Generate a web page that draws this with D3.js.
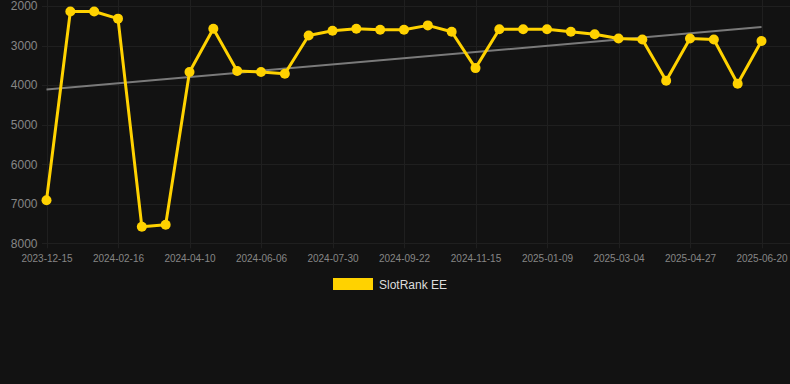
<!DOCTYPE html>
<html>
<head>
<meta charset="utf-8">
<script src="https://cdn.jsdelivr.net/npm/d3@7"></script>
<style>
    html, body { margin: 0; padding: 0; background: #121212; }
    svg { display: block; font-family: Arial, "Liberation Sans", sans-serif; }
</style>
</head>
<body>
<div id="chart"></div>
<script>
// SlotRank EE — rank over time (lower is better, axis reversed)

const seriesName = "SlotRank EE";

// one value per sample, 31 samples
const rankValues = [
    6910, 2140, 2140, 2320, 7580, 7530, 3670, 2575, 3645, 3670,
    3715, 2745, 2625, 2575, 2600, 2600, 2490, 2650, 3570, 2590,
    2590, 2590, 2650, 2715, 2820, 2845, 3890, 2820, 2845, 3965,
    2885,
];

// labels shown on every 3rd sample
const xTickLabels = [
    "2023-12-15", "2024-02-16", "2024-04-10", "2024-06-06", "2024-07-30",
    "2024-09-22", "2024-11-15", "2025-01-09", "2025-03-04", "2025-04-27",
    "2025-06-20",
];
const xTickStep = 3;

const yTicks = [2000, 3000, 4000, 5000, 6000, 7000, 8000];

const width = 790;
const height = 384;
const plot = { left: 46.5, right: 761.5, top: 6, bottom: 243.3 };

const svg = d3.select("#chart")
    .append("svg")
    .attr("width", width)
    .attr("height", height);

svg.append("rect")
    .attr("width", width).attr("height", height)
    .attr("fill", "#121212");

const idx = d3.range(rankValues.length);
const x = d3.scalePoint().domain(idx).range([plot.left, plot.right]);
const y = d3.scaleLinear().domain([2000, 8000]).range([plot.top, plot.bottom]);

// Grid
const grid = svg.append("g").attr("stroke", "#1f1f1f").attr("stroke-width", 1);
grid.selectAll(".h")
    .data(yTicks)
    .join("line")
    .attr("x1", 42).attr("x2", width)
    .attr("y1", (d) => Math.round(y(d)) + 0.5)
    .attr("y2", (d) => Math.round(y(d)) + 0.5);

const tickIdx = xTickLabels.map((_, i) => i * xTickStep);
grid.selectAll(".v")
    .data(tickIdx)
    .join("line")
    .attr("x1", (d) => Math.round(x(d)) + 0.5)
    .attr("x2", (d) => Math.round(x(d)) + 0.5)
    .attr("y1", 0).attr("y2", plot.bottom + 5);

// Axes
const yAxis = svg.append("g")
    .attr("transform", `translate(${plot.left - 9},0)`)
    .call(d3.axisLeft(y).tickValues(yTicks).tickFormat(d3.format("d")).tickSize(0).tickPadding(0));
yAxis.select(".domain").remove();
yAxis.selectAll("text")
    .attr("fill", "#868686")
    .attr("font-size", 12)
    .attr("font-family", "Arial, 'Liberation Sans', sans-serif");

const xAxis = svg.append("g")
    .attr("transform", `translate(0,${plot.bottom + 8})`)
    .call(d3.axisBottom(x).tickValues(tickIdx)
        .tickFormat((d) => xTickLabels[d / xTickStep]).tickSize(0).tickPadding(4));
xAxis.select(".domain").remove();
xAxis.selectAll("text")
    .attr("fill", "#868686")
    .attr("font-size", 10)
    .attr("font-family", "Arial, 'Liberation Sans', sans-serif");

// Trend line (least squares over sample index)
const mx = d3.mean(idx);
const my = d3.mean(rankValues);
const slope = d3.sum(idx, (i) => (i - mx) * (rankValues[i] - my)) /
    d3.sum(idx, (i) => (i - mx) ** 2);
const trend = [0, idx.length - 1].map((i) => [i, my + slope * (i - mx)]);

svg.append("path")
    .datum(trend)
    .attr("fill", "none")
    .attr("stroke", "#7a7a7a")
    .attr("stroke-width", 2)
    .attr("d", d3.line().x((d) => x(d[0])).y((d) => y(d[1])));

// Series line + points
const gold = "#ffd200";
svg.append("path")
    .datum(rankValues)
    .attr("fill", "none")
    .attr("stroke", gold)
    .attr("stroke-width", 3)
    .attr("stroke-linejoin", "round")
    .attr("d", d3.line().x((_, i) => x(i)).y((d) => y(d)));

svg.append("g")
    .selectAll("circle")
    .data(rankValues)
    .join("circle")
    .attr("cx", (_, i) => x(i))
    .attr("cy", (d) => y(d))
    .attr("r", 5)
    .attr("fill", gold);

// Legend
const legend = svg.append("g").attr("transform", "translate(333,278)");
legend.append("rect")
    .attr("width", 40).attr("height", 12)
    .attr("fill", gold);
legend.append("text")
    .attr("x", 46).attr("y", 10.5)
    .attr("fill", "#dddddd")
    .attr("font-size", 12)
    .text(seriesName);
</script>
</body>
</html>
